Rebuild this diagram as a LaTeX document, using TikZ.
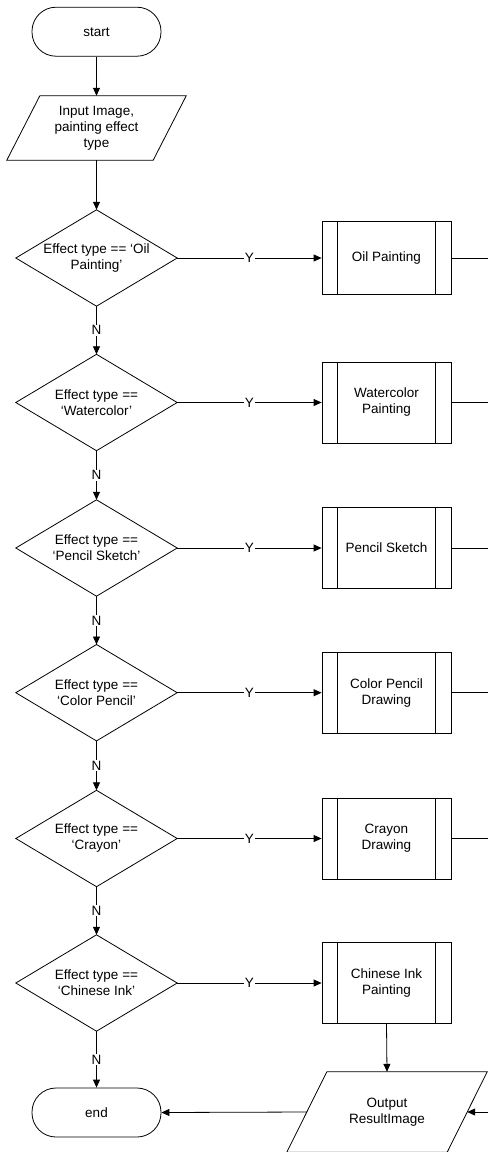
\documentclass[tikz,border=0pt]{standalone}
\usepackage{fontspec}
\setmainfont{Liberation Sans}
\usetikzlibrary{arrows.meta}
\begin{document}
\begin{tikzpicture}[x=1pt,y=-1pt,
  every node/.style={font=\fontsize{13.5}{16}\selectfont, align=center},
  line/.style={line width=0.8pt, black},
  arr/.style={line, -{Triangle[length=8pt,width=7pt]}},
  term/.style={draw, line width=0.8pt, rounded corners=24pt, minimum width=129pt, minimum height=49pt, inner sep=0pt},
  dec/.style={minimum width=161pt, minimum height=96pt, inner sep=0pt},
  proc/.style={draw, line width=0.8pt, minimum width=129pt, minimum height=81pt, inner sep=0pt},
  io/.style={minimum width=146pt, inner sep=0pt},
  lab/.style={fill=white, inner sep=1pt}
]
\useasboundingbox (0,0) rectangle (488,1152);

% terminals
\node[term] (start) at (96.5,31.7) {start};
\node[term] (end) at (96.5,1112.5) {end};

% input
\node[io, minimum height=64pt] (in) at (96.5,128) {Input Image,\\painting effect\\type};
\draw[line] ([xshift=16.5pt]in.north west) -- ([xshift=16.5pt]in.north east)
  -- ([xshift=-16.5pt]in.south east) -- ([xshift=-16.5pt]in.south west) -- cycle;

% decisions
\node[dec] (d1) at (96.5,258) {Effect type == ‘Oil\\Painting’};
\node[dec] (d2) at (96.5,402.5) {Effect type ==\\‘Watercolor’};
\node[dec] (d3) at (96.5,548) {Effect type ==\\‘Pencil Sketch’};
\node[dec] (d4) at (96.5,692.7) {Effect type ==\\‘Color Pencil’};
\node[dec] (d5) at (96.5,838.5) {Effect type ==\\‘Crayon’};
\node[dec] (d6) at (96.5,983) {Effect type ==\\‘Chinese Ink’};
\foreach \n in {d1,d2,d3,d4,d5,d6}
  \draw[line] (\n.north) -- (\n.east) -- (\n.south) -- (\n.west) -- cycle;

% processes
\node[proc, minimum height=73pt] (p1) at (386.5,258) {Oil Painting};
\node[proc] (p2) at (386.5,402.5) {Watercolor\\Painting};
\node[proc] (p3) at (386.5,548) {Pencil Sketch};
\node[proc] (p4) at (386.5,692.7) {Color Pencil\\Drawing};
\node[proc] (p5) at (386.5,838.5) {Crayon\\Drawing};
\node[proc] (p6) at (386.5,983) {Chinese Ink\\Painting};
\foreach \n in {p1,p2,p3,p4,p5,p6} {
  \draw[line] ([xshift=16pt]\n.north west) -- ([xshift=16pt]\n.south west);
  \draw[line] ([xshift=-16pt]\n.north east) -- ([xshift=-16pt]\n.south east);
}

% output
\node[io, minimum width=160pt, minimum height=80pt] (out) at (387,1112) {Output\\ResultImage};
\draw[line] ([xshift=20pt]out.north west) -- ([xshift=20pt]out.north east)
  -- ([xshift=-20pt]out.south east) -- ([xshift=-20pt]out.south west) -- cycle;

% right edge coordinates
\coordinate (e1) at (488,258);
\coordinate (e2) at (488,402.5);
\coordinate (e3) at (488,548);
\coordinate (e4) at (488,692.7);
\coordinate (e5) at (488,838.5);
\coordinate (eo) at (488,1112);

% connectors
\draw[arr] (start) -- (in);
\draw[arr] (in) -- (d1);
\draw[arr] (d1) -- node[lab]{N} (d2);
\draw[arr] (d2) -- node[lab]{N} (d3);
\draw[arr] (d3) -- node[lab]{N} (d4);
\draw[arr] (d4) -- node[lab]{N} (d5);
\draw[arr] (d5) -- node[lab]{N} (d6);
\draw[arr] (d6) -- node[lab]{N} (end);
\foreach \i in {1,...,6}
  \draw[arr] (d\i.east) -- node[lab]{Y} (p\i.west);
\foreach \i in {1,...,5}
  \draw[line] (p\i.east) -- (e\i);
\draw[arr] (p6.south) -- (out.north);
\draw[arr] (eo) -- (out.east);
\draw[arr] (out.west) -- (end.east);
\end{tikzpicture}
\end{document}
